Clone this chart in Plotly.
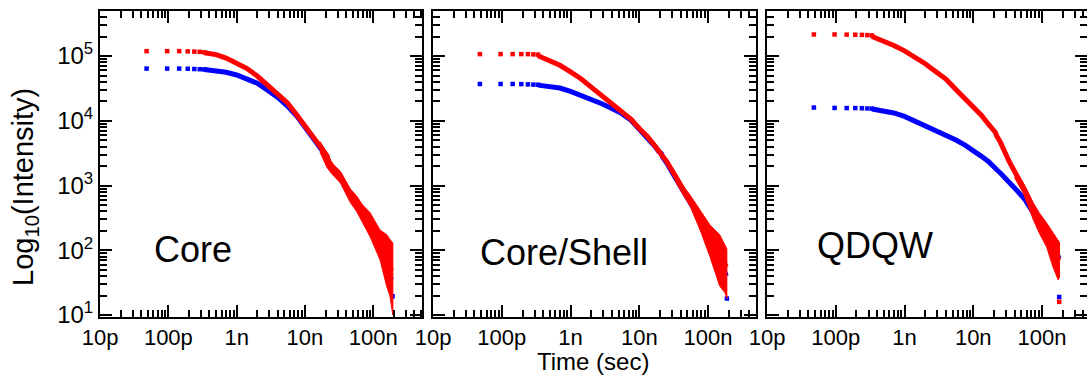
import plotly.graph_objects as go

# ---------------- data (time in ns, intensity in counts) ----------------
# first few discrete time bins, drawn as separate squares
BIN_NS = [0.048, 0.096, 0.144, 0.192, 0.240, 0.288, 0.336]

# Core
core_red_early = [1.19e5, 1.19e5, 1.19e5, 1.18e5, 1.17e5, 1.16e5, 1.14e5]
core_blue_early = [6.4e4, 6.4e4, 6.4e4, 6.35e4, 6.3e4, 6.25e4, 6.2e4]
core_t = [0.336, 0.5, 0.7, 1.0, 1.4, 2.0, 2.8, 4.0, 5.5, 7.6, 10, 13, 16.6,
          19, 21, 22, 25, 33, 45, 57, 70, 90, 120, 150, 185]
core_red = [1.12e5, 1.05e5, 9.3e4, 7.8e4, 6.45e4, 4.9e4, 3.55e4, 2.57e4, 1.9e4,
            1.23e4, 8.3e3, 5.7e3, 4.0e3, 3.3e3, 2.9e3, 2.4e3, 2.05e3, 1.37e3,
            7.8e2, 5.3e2, 3.6e2, 2.35e2, 1.25e2, 7.5e1, 4.8e1]
core_blue = [6.2e4, 5.9e4, 5.6e4, 5.1e4, 4.5e4, 3.8e4, 3.0e4, 2.3e4, 1.7e4,
             1.18e4, 8.0e3, 5.5e3, 3.85e3, 3.15e3, 2.75e3, 2.3e3, 1.95e3, 1.3e3,
             7.3e2, 4.9e2, 3.3e2, 2.1e2, 1.1e2, 6.0e1, 3.5e1]
core_tail_t = [16.6, 21, 25, 33, 46, 57, 70, 90, 126, 157, 175, 194]
core_tail_hi = [4.8e3, 3.2e3, 2.2e3, 1.66e3, 890, 690, 500, 380, 205, 175, 148, 129]
core_tail_lo = [3.3e3, 1.9e3, 1.5e3, 1.1e3, 550, 400, 263, 162, 71, 28, 20, 10]
core_blue_last = (192, 19.5)

# Core/Shell
cs_red_early = [1.07e5, 1.07e5, 1.07e5, 1.07e5, 1.07e5, 1.06e5, 1.05e5]
cs_blue_early = [3.7e4, 3.7e4, 3.7e4, 3.68e4, 3.65e4, 3.62e4, 3.6e4]
cs_t = [0.336, 0.5, 0.7, 1.0, 1.4, 2.0, 2.8, 4.0, 5.5, 7.6, 10, 13, 16.6,
        19, 21, 22, 25, 33, 45, 57, 70, 90, 120, 150, 185]
cs_red = [1.01e5, 8.5e4, 7.2e4, 5.7e4, 4.5e4, 3.3e4, 2.5e4, 1.85e4, 1.4e4,
          1.05e4, 7.6e3, 5.8e3, 4.2e3, 3.5e3, 3.2e3, 2.8e3, 2.35e3, 1.4e3,
          8.0e2, 5.4e2, 3.9e2, 2.4e2, 1.2e2, 8.5e1, 5.5e1]
cs_blue = [3.55e4, 3.4e4, 3.2e4, 2.85e4, 2.5e4, 2.15e4, 1.85e4, 1.55e4, 1.3e4,
           1.02e4, 7.5e3, 5.6e3, 4.1e3, 3.4e3, 3.1e3, 2.7e3, 2.25e3, 1.35e3,
           7.6e2, 5.1e2, 3.7e2, 2.25e2, 1.1e2, 7.0e1, 4.0e1]
cs_tail_t = [33, 45, 55, 77, 107, 148, 177, 188]
cs_tail_hi = [1.6e3, 930, 710, 417, 245, 174, 120, 105]
cs_tail_lo = [1.2e3, 680, 480, 204, 79, 28, 22, 18]
cs_blue_last = (188, 18)

# QDQW
qw_red_early = [2.15e5, 2.15e5, 2.14e5, 2.13e5, 2.12e5, 2.1e5, 2.08e5]
qw_blue_early = [1.6e4, 1.58e4, 1.57e4, 1.57e4, 1.56e4, 1.55e4, 1.54e4]
qw_t = [0.336, 0.5, 0.7, 1.0, 1.4, 2.0, 2.8, 4.0, 5.5, 7.6, 10, 13, 16.6,
        19, 21, 22, 25, 33, 45, 57, 70, 90, 120, 150, 178]
qw_red = [2.0e5, 1.72e5, 1.45e5, 1.2e5, 9.8e4, 7.6e4, 5.8e4, 4.4e4, 3.1e4,
          2.2e4, 1.6e4, 1.23e4, 8.9e3, 7.5e3, 6.6e3, 5.8e3, 4.6e3, 2.4e3,
          1.3e3, 8.2e2, 4.9e2, 2.65e2, 1.65e2, 9.5e1, 7.0e1]
qw_blue = [1.52e4, 1.42e4, 1.32e4, 1.17e4, 1.0e4, 8.4e3, 7.2e3, 6.0e3, 5.1e3,
           4.2e3, 3.5e3, 2.85e3, 2.35e3, 2.0e3, 1.85e3, 1.75e3, 1.55e3, 1.15e3,
           8.0e2, 6.0e2, 4.3e2, 2.9e2, 1.7e2, 1.1e2, 7.5e1]
qw_tail_t = [40, 53.5, 75, 91, 117, 145, 172, 180]
qw_tail_hi = [1.78e3, 1.1e3, 537, 380, 263, 186, 145, 132]
qw_tail_lo = [1.32e3, 760, 295, 186, 112, 55, 35, 38]
qw_blue_last = (178, 19)
qw_red_last = (178, 16)

PANEL_NAMES = ["Core", "Core/Shell", "QDQW"]
X_TICK_TEXT = ["10p", "100p", "1n", "10n", "100n"]
Y_TICK_TEXT = ["10<sup>1</sup>", "10<sup>2</sup>", "10<sup>3</sup>",
               "10<sup>4</sup>", "10<sup>5</sup>"]

# ---------------- layout geometry (pixels) ----------------
W, H = 1087, 376
RED, BLUE = "#ff0000", "#0000ff"
FONT = "Liberation Sans, Arial, sans-serif"
LINE_W = 5.0
MARK = 4.5


def px_x(x):
    return x / W


def px_y(y):
    return 1 - y / H


panels = [
    dict(name=PANEL_NAMES[0], t=core_t, red=core_red, blue=core_blue,
         red_early=core_red_early, blue_early=core_blue_early,
         tail_t=core_tail_t, tail_hi=core_tail_hi, tail_lo=core_tail_lo,
         blue_end=core_blue_last, red_end=None,
         dom=(100, 422), xmax=-6.286, label=(152, 249.5)),
    dict(name=PANEL_NAMES[1], t=cs_t, red=cs_red, blue=cs_blue,
         red_early=cs_red_early, blue_early=cs_blue_early,
         tail_t=cs_tail_t, tail_hi=cs_tail_hi, tail_lo=cs_tail_lo,
         blue_end=cs_blue_last, red_end=None,
         dom=(433, 756), xmax=-6.302, label=(478, 252)),
    dict(name=PANEL_NAMES[2], t=qw_t, red=qw_red, blue=qw_blue,
         red_early=qw_red_early, blue_early=qw_blue_early,
         tail_t=qw_tail_t, tail_hi=qw_tail_hi, tail_lo=qw_tail_lo,
         blue_end=qw_blue_last, red_end=qw_red_last,
         dom=(767, 1087), xmax=-6.345, label=(815, 245.5)),
]

ns = 1e-9
fig = go.Figure()

x_major = [10.0 ** e for e in range(-11, -6)]
x_minor = [k * 10.0 ** e for e in range(-11, -6) for k in range(2, 10)]
y_major = [10.0 ** e for e in range(1, 6)]
y_minor = [k * 10.0 ** e for e in range(0, 6) for k in range(2, 10)]
Y_RANGE = [0.97, 5.695]
Y_DOM = [px_y(317), px_y(11)]

axis_common = dict(
    type="log", showgrid=False, zeroline=False, showline=True,
    linecolor="black", linewidth=2, mirror="allticks",
    ticks="inside", tickwidth=2, tickcolor="black", tickmode="array",
)


def square(x, y, color, xa, ya):
    return go.Scatter(
        x=x, y=y, mode="markers",
        marker=dict(symbol="square", size=MARK, color=color, line=dict(width=0)),
        xaxis=xa, yaxis=ya, showlegend=False, hoverinfo="skip")


n = len(panels)
for i, p in enumerate(panels):
    sfx = "" if i == 0 else str(i + 1)
    rsfx = str(i + 1 + n)   # twin subplot on the same frame: red data + minor ticks
    xa, ya = "x" + sfx, "y" + sfx
    xr, yr = "x" + rsfx, "y" + rsfx

    # blue decay (main subplot, underneath)
    fig.add_trace(go.Scatter(
        x=[v * ns for v in p["t"]], y=p["blue"], mode="lines",
        line=dict(color=BLUE, width=LINE_W), xaxis=xa, yaxis=ya,
        showlegend=False, hoverinfo="skip"))
    fig.add_trace(square([v * ns for v in BIN_NS], p["blue_early"], BLUE, xa, ya))
    tb, vb = p["blue_end"]
    fig.add_trace(square([tb * ns], [vb], BLUE, xa, ya))

    # red decay (twin subplot, drawn on top)
    fig.add_trace(go.Scatter(
        x=[v * ns for v in p["t"]], y=p["red"], mode="lines",
        line=dict(color=RED, width=LINE_W), xaxis=xr, yaxis=yr,
        showlegend=False, hoverinfo="skip"))
    fig.add_trace(square([v * ns for v in BIN_NS], p["red_early"], RED, xr, yr))
    band_x = [v * ns for v in p["tail_t"]] + [v * ns for v in p["tail_t"][::-1]]
    band_y = list(p["tail_hi"]) + list(p["tail_lo"][::-1])
    fig.add_trace(go.Scatter(
        x=band_x, y=band_y, mode="lines", fill="toself", fillcolor=RED,
        line=dict(color=RED, width=1), xaxis=xr, yaxis=yr,
        showlegend=False, hoverinfo="skip"))
    if p["red_end"] is not None:
        tr, vr = p["red_end"]
        fig.add_trace(square([tr * ns], [vr], RED, xr, yr))

    x0, x1 = p["dom"]
    x_dom = [px_x(x0), px_x(x1)]
    x_rng = [-11.001, p["xmax"]]

    # decade ticks with labels
    fig.layout["xaxis" + sfx] = dict(
        axis_common, domain=x_dom, range=x_rng, anchor=ya, ticklen=12,
        tickvals=x_major, ticktext=X_TICK_TEXT,
        tickfont=dict(family=FONT, size=22, color="black"),
    )
    fig.layout["yaxis" + sfx] = dict(
        axis_common, domain=Y_DOM, range=Y_RANGE, anchor=xa, ticklen=12,
        tickvals=y_major, ticktext=Y_TICK_TEXT, showticklabels=(i == 0),
        tickfont=dict(family=FONT, size=24, color="black"),
    )
    # 2..9 sub-decade ticks on the twin axes
    fig.layout["xaxis" + rsfx] = dict(
        axis_common, domain=x_dom, range=x_rng, anchor=yr, ticklen=7,
        tickvals=x_minor, showticklabels=False,
    )
    fig.layout["yaxis" + rsfx] = dict(
        axis_common, domain=Y_DOM, range=Y_RANGE, anchor=xr, ticklen=7,
        tickvals=y_minor, showticklabels=False,
    )

    lx, ly = p["label"]
    fig.add_annotation(
        x=px_x(lx), y=px_y(ly), xref="paper", yref="paper",
        text=p["name"], showarrow=False, xanchor="left", yanchor="middle",
        font=dict(family=FONT, size=36, color="black"))

fig.add_annotation(
    x=px_x(593), y=px_y(361.5), xref="paper", yref="paper",
    text="Time (sec)", showarrow=False, xanchor="center", yanchor="middle",
    font=dict(family=FONT, size=24, color="black"))
fig.add_annotation(
    x=px_x(25), y=px_y(187), xref="paper", yref="paper",
    text="Log<sub>10</sub>(Intensity)", textangle=-90, showarrow=False,
    xanchor="center", yanchor="middle",
    font=dict(family=FONT, size=29, color="black"))

fig.update_layout(
    width=W, height=H, margin=dict(l=0, r=0, t=0, b=0, autoexpand=False),
    paper_bgcolor="white", plot_bgcolor="rgba(0,0,0,0)", showlegend=False,
)

fig.write_html("out.html")
